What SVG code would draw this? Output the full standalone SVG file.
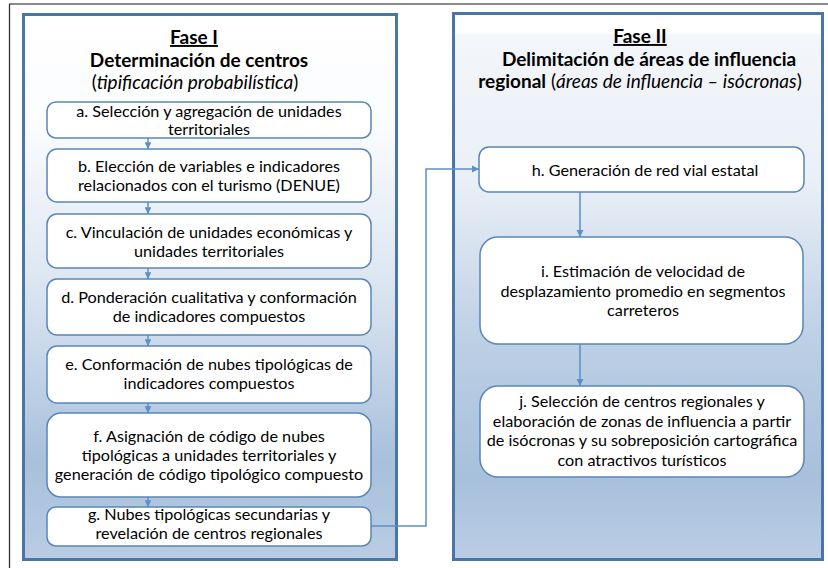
<svg xmlns="http://www.w3.org/2000/svg" width="828" height="568" viewBox="0 0 828 568">
<style>
.panel{stroke:#4a76a6;stroke-width:3}
.node{fill:#ffffff;stroke:#5a86b5;stroke-width:1.5}
.t{font-family:Lato,"Liberation Sans",sans-serif;font-size:16.2px;fill:#000;text-anchor:middle}
.h{font-family:Lato,"Liberation Sans",sans-serif;font-size:19px;fill:#000;text-anchor:middle}
.b{font-weight:bold}
.i{font-style:italic}
.u{text-decoration:underline}
.c{fill:none;stroke:#5b8fc8;stroke-width:1.5}
</style>
<defs>
<linearGradient id="g1" x1="0" y1="0" x2="0" y2="1">
<stop offset="0" stop-color="#ffffff"/>
<stop offset="0.2" stop-color="#fbfcfe"/>
<stop offset="0.5" stop-color="#dbe5f1"/>
<stop offset="0.82" stop-color="#a8c0dc"/>
<stop offset="1" stop-color="#b9cce3"/>
</linearGradient>
<linearGradient id="g2" x1="0" y1="0" x2="0" y2="1">
<stop offset="0" stop-color="#ffffff"/>
<stop offset="0.035" stop-color="#ffffff"/>
<stop offset="0.04" stop-color="#f3f6fa"/>
<stop offset="0.3" stop-color="#eaf0f7"/>
<stop offset="0.6" stop-color="#bccfe5"/>
<stop offset="0.85" stop-color="#a8c0dc"/>
<stop offset="1" stop-color="#bacde4"/>
</linearGradient>
<marker id="ar" viewBox="0 0 10 10" refX="10" refY="5" markerWidth="5" markerHeight="5" orient="auto" markerUnits="strokeWidth">
<path d="M0,0 L10,5 L0,10 z" fill="#5b8fc8"/>
</marker>
<marker id="as" viewBox="0 0 10 10" refX="10" refY="5" markerWidth="4.5" markerHeight="4.5" orient="auto" markerUnits="strokeWidth">
<path d="M0,0 L10,5 L0,10 z" fill="#5b8fc8"/>
</marker>
</defs>
<rect width="828" height="568" fill="#ffffff"/>
<g id="frame">
<line x1="9" y1="4" x2="828" y2="4" stroke="#8a8a8a" stroke-width="2"/>
<line x1="9.5" y1="4" x2="9.5" y2="568" stroke="#333" stroke-width="1.3"/>
</g>
<g id="phase1">
<rect class="panel" x="23.5" y="14.5" width="373" height="545" fill="url(#g1)"/>
<text class="h b u" x="194" y="44">Fase I</text>
<text class="h b" x="199" y="67">Determinación de centros</text>
<text class="h" x="195" y="89">(<tspan class="i">tipificación probabilística</tspan>)</text>
</g>
<g id="phase2">
<rect class="panel" x="453.5" y="13.5" width="369" height="546" fill="url(#g2)"/>
<text class="h b u" x="640" y="43">Fase II</text>
<text class="h b" x="649" y="66">Delimitación de áreas de influencia</text>
<text class="h" x="640" y="88"><tspan class="b">regional</tspan> (<tspan class="i">áreas de influencia – isócronas</tspan>)</text>
</g>
<g id="connectors">
<line class="c" x1="148" y1="138" x2="148" y2="149" marker-end="url(#as)"/>
<line class="c" x1="148" y1="202" x2="148" y2="214" marker-end="url(#as)"/>
<line class="c" x1="148" y1="268" x2="148" y2="279" marker-end="url(#as)"/>
<line class="c" x1="148" y1="335" x2="148" y2="346" marker-end="url(#as)"/>
<line class="c" x1="148" y1="403" x2="148" y2="413" marker-end="url(#as)"/>
<line class="c" x1="148" y1="497" x2="148" y2="507" marker-end="url(#as)"/>
<polyline class="c" points="371,526 426,526 426,169 479,169" marker-end="url(#ar)"/>
<line class="c" x1="580" y1="192" x2="580" y2="237" marker-end="url(#ar)"/>
<line class="c" x1="580" y1="344" x2="580" y2="386" marker-end="url(#ar)"/>
</g>
<g id="node-a">
<rect class="node" x="47" y="102" width="324" height="36" rx="9"/>
<text class="t" x="209" y="117">a. Selección y agregación de unidades</text>
<text class="t" x="209" y="135">territoriales</text>
</g>
<g id="node-b">
<rect class="node" x="47" y="149" width="324" height="53" rx="10"/>
<text class="t" x="209" y="172">b. Elección de variables e indicadores</text>
<text class="t" x="209" y="191">relacionados con el turismo (DENUE)</text>
</g>
<g id="node-c">
<rect class="node" x="47" y="214" width="324" height="54" rx="10"/>
<text class="t" x="209" y="238">c. Vinculación de unidades económicas y</text>
<text class="t" x="209" y="257">unidades territoriales</text>
</g>
<g id="node-d">
<rect class="node" x="47" y="279" width="324" height="56" rx="10"/>
<text class="t" x="209" y="303">d. Ponderación cualitativa y conformación</text>
<text class="t" x="209" y="322">de indicadores compuestos</text>
</g>
<g id="node-e">
<rect class="node" x="47" y="346" width="324" height="57" rx="10"/>
<text class="t" x="209" y="370">e. Conformación de nubes tipológicas de</text>
<text class="t" x="209" y="389">indicadores compuestos</text>
</g>
<g id="node-f">
<rect class="node" x="47" y="413" width="324" height="84" rx="14"/>
<text class="t" x="209" y="442">f. Asignación de código de nubes</text>
<text class="t" x="209" y="461">tipológicas a unidades territoriales y</text>
<text class="t" x="209" y="480">generación de código tipológico compuesto</text>
</g>
<g id="node-g">
<rect class="node" x="47" y="507" width="324" height="39" rx="9"/>
<text class="t" x="209" y="520">g. Nubes tipológicas secundarias y</text>
<text class="t" x="209" y="539">revelación de centros regionales</text>
</g>
<g id="node-h">
<rect class="node" x="479" y="147" width="325" height="45" rx="10"/>
<text class="t" x="645" y="176">h. Generación de red vial estatal</text>
</g>
<g id="node-i">
<rect class="node" x="480" y="237" width="323" height="107" rx="18"/>
<text class="t" x="643" y="277">i. Estimación de velocidad de</text>
<text class="t" x="643" y="297">desplazamiento promedio en segmentos</text>
<text class="t" x="643" y="316">carreteros</text>
</g>
<g id="node-j">
<rect class="node" x="480" y="386" width="324" height="91" rx="18"/>
<text class="t" x="642" y="407">j. Selección de centros regionales y</text>
<text class="t" x="642" y="427">elaboración de zonas de influencia a partir</text>
<text class="t" x="642" y="446">de isócronas y su sobreposición cartográfica</text>
<text class="t" x="642" y="466">con atractivos turísticos</text>
</g>
</svg>
